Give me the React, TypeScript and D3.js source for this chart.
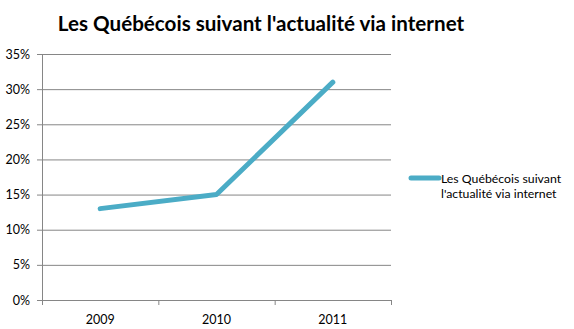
import React from "react";
import * as d3 from "d3";

const years = ["2009", "2010", "2011"];
const values = [13, 15, 31];
const yTicks = [0, 5, 10, 15, 20, 25, 30, 35];
const title = "Les Québécois suivant l'actualité via internet";
const legendLines = ["Les Québécois suivant", "l'actualité via internet"];

export default function App() {
  const W = 574, H = 329;
  const left = 42, right = 391, top = 54, bottom = 300;
  const x = d3.scaleBand().domain(years).range([left, right]);
  const y = d3.scaleLinear().domain([0, 35]).range([bottom, top]);
  const line = d3
    .line<number>()
    .x((_, i) => (x(years[i]) as number) + x.bandwidth() / 2)
    .y((d) => y(d));
  const font = "Lato, 'Open Sans', 'Liberation Sans', sans-serif";
  const grid = "#868686";
  const color = "#4BACC6";
  return (
    <svg width={W} height={H} style={{ position: "absolute", left: 0, top: 0, display: "block" }}>
      <rect width={W} height={H} fill="#fff" />
      <text x={261} y={31} textAnchor="middle" fontFamily={font} fontWeight="bold" fontSize={20.6}>
        {title}
      </text>
      {yTicks.map((t) => (
        <g key={t}>
          <line x1={left - 5} x2={right} y1={y(t) + 0.5} y2={y(t) + 0.5} stroke={grid} />
          <text x={30} y={y(t) + 4.5} textAnchor="end" fontFamily={font} fontSize={12.5} fill="#000">
            {t}%
          </text>
        </g>
      ))}
      <line x1={left + 0.5} x2={left + 0.5} y1={top} y2={bottom} stroke={grid} />
      {years.map((yr) => (
        <g key={yr}>
          <line
            x1={(x(yr) as number) + x.bandwidth() + 0.5}
            x2={(x(yr) as number) + x.bandwidth() + 0.5}
            y1={bottom}
            y2={bottom + 5}
            stroke={grid}
          />
          <text
            x={(x(yr) as number) + x.bandwidth() / 2}
            y={bottom + 24}
            textAnchor="middle"
            fontFamily={font}
            fontSize={12.5}
          >
            {yr}
          </text>
        </g>
      ))}
      <line x1={left + 0.5} x2={left + 0.5} y1={bottom} y2={bottom + 5} stroke={grid} />
      <path d={line(values) || ""} fill="none" stroke={color} strokeWidth={5} strokeLinecap="round" strokeLinejoin="round" />
      <line x1={411} x2={439} y1={178} y2={178} stroke={color} strokeWidth={5} strokeLinecap="round" />
      {legendLines.map((l, i) => (
        <text key={i} x={441} y={183 + i * 15} fontFamily={font} fontSize={12.3}>
          {l}
        </text>
      ))}
    </svg>
  );
}
